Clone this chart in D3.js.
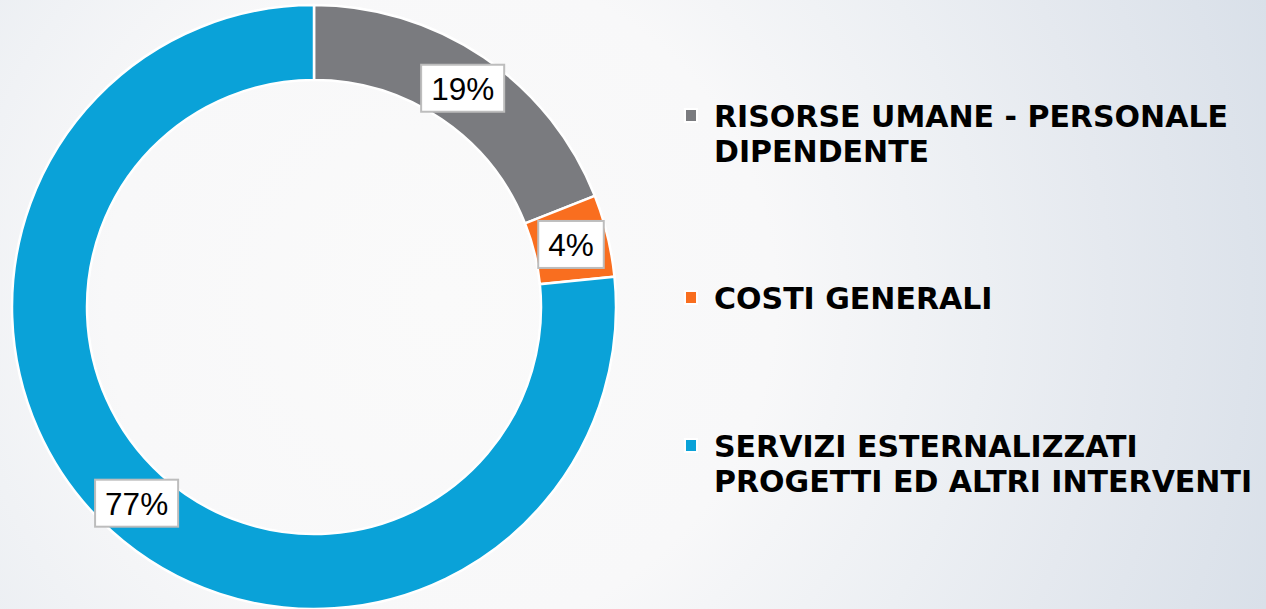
<!DOCTYPE html>
<html>
  <head>
    <title>Ripartizione costi</title>
    <script src='https://d3js.org/d3.v7.min.js'></script>
    <style type='text/css'>
      body, html {
        margin: 0;
        padding: 0;
        overflow: hidden;
      }
      svg {
        display: block;
      }
    </style>
  </head>
  <body>
    <svg width='1266' height='609'></svg>

    <script type='text/javascript'>
      // data
      var categories = ['RISORSE UMANE - PERSONALE DIPENDENTE', 'COSTI GENERALI', 'SERVIZI ESTERNALIZZATI PROGETTI ED ALTRI INTERVENTI']
      var legendLines = [
        ['RISORSE UMANE - PERSONALE', 'DIPENDENTE'],
        ['COSTI GENERALI'],
        ['SERVIZI ESTERNALIZZATI', 'PROGETTI ED ALTRI INTERVENTI']
      ]
      var shares = [19, 4.4, 76.6]
      var colors = ['#7a7b7f', '#f96e1f', '#0aa2d8']

      var width = 1266, height = 609
      var cx = 314, cy = 307
      var outerR = 302, innerR = 227

      var svg = d3.select('svg')

      // background: soft radial gradient, white on the left, grey-blue to the right
      var defs = svg.append('defs')
      var grad = defs.append('radialGradient')
          .attr('id', 'bg')
          .attr('gradientUnits', 'userSpaceOnUse')
          .attr('cx', 440).attr('cy', 300).attr('r', 880)
      var stops = [[0, '#fafafa'], [0.38, '#f8f8f9'], [0.62, '#eceff3'], [0.76, '#e5e9ef'], [1, '#d9e0e9']]
      grad.selectAll('stop').data(stops).enter().append('stop')
          .attr('offset', function(d) { return d[0] })
          .attr('stop-color', function(d) { return d[1] })

      svg.append('rect')
          .attr('width', width).attr('height', height)
          .attr('fill', 'url(#bg)')

      var data = categories.map(function(c, i) {
        return {name: c, value: shares[i], color: colors[i], lines: legendLines[i]}
      })

      var pie = d3.pie()
          .sort(null)
          .value(function(d) { return d.value })

      var arc = d3.arc()
          .innerRadius(innerR)
          .outerRadius(outerR)

      var labelArc = d3.arc()
          .innerRadius((innerR + outerR) / 2)
          .outerRadius((innerR + outerR) / 2)

      var total = d3.sum(shares)
      var arcs = pie(data)

      var chart = svg.append('g')
          .attr('transform', 'translate(' + cx + ',' + cy + ')')

      chart.selectAll('path')
          .data(arcs)
          .enter().append('path')
            .attr('d', arc)
            .attr('fill', function(d) { return d.data.color })
            .attr('stroke', '#ffffff')
            .attr('stroke-width', 2.5)
            .attr('stroke-linejoin', 'miter')

      // percentage labels in white boxes
      var label = chart.selectAll('.label')
          .data(arcs)
          .enter().append('g')
            .attr('class', 'label')
            .attr('transform', function(d) { return 'translate(' + labelArc.centroid(d) + ')' })

      label.append('rect')
      label.append('text')
          .attr('text-anchor', 'middle')
          .attr('dy', '0.36em')
          .attr('font-family', 'Liberation Sans, Arial, sans-serif')
          .attr('font-size', 31.5)
          .attr('fill', '#000')
          .text(function(d) { return Math.round(d.data.value / total * 100) + '%' })

      label.each(function() {
        var g = d3.select(this)
        var w = g.select('text').node().getComputedTextLength() + 20
        var h = 47
        g.select('rect')
          .attr('x', -w / 2).attr('y', -h / 2)
          .attr('width', w).attr('height', h)
          .attr('fill', '#ffffff')
          .attr('stroke', '#bdbdbd')
          .attr('stroke-width', 2)
      })

      // legend
      var baselines = [127, 309, 457]
      var lineGap = 35

      var legend = svg.append('g').attr('class', 'legend')
      var item = legend.selectAll('.item')
          .data(data)
          .enter().append('g')
            .attr('class', 'item')
            .attr('transform', function(d, i) { return 'translate(0,' + baselines[i] + ')' })

      item.append('rect')
          .attr('x', 685).attr('y', -18)
          .attr('width', 12).attr('height', 13)
          .attr('fill', function(d) { return d.color })
          .attr('stroke', '#ffffff')
          .attr('stroke-width', 2)

      item.append('text')
          .attr('x', 714)
          .attr('font-family', 'DejaVu Sans, Verdana, sans-serif')
          .attr('font-weight', 'bold')
          .attr('font-size', 30)
          .attr('fill', '#000')
        .selectAll('tspan')
        .data(function(d) { return d.lines })
        .enter().append('tspan')
          .attr('x', 714)
          .attr('y', function(d, i) { return i * lineGap })
          .text(function(d) { return d })
    </script>
  </body>
</html>
